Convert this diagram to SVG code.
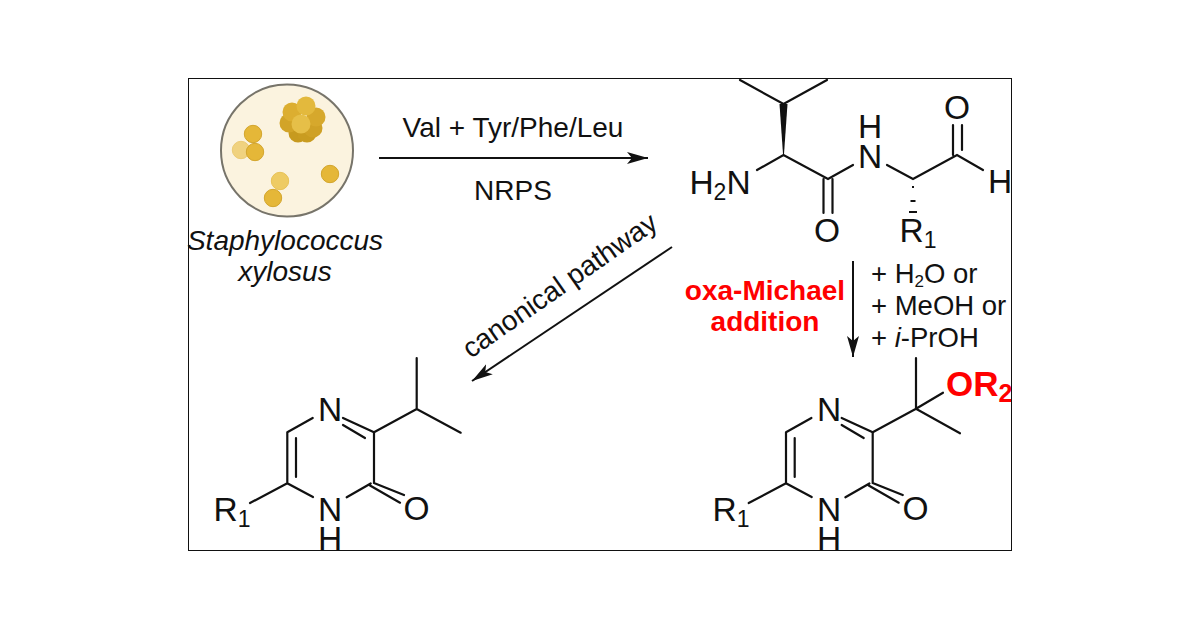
<svg xmlns="http://www.w3.org/2000/svg" width="1200" height="628" viewBox="0 0 1200 628">
<style>
text{font-family:"Liberation Sans",Arial,sans-serif;fill:#111}
.a{font-size:33.5px;text-anchor:middle}
.l{font-size:28px;text-anchor:middle}
.r{font-size:27.5px}
.red{fill:#f00;font-weight:bold}
.b{stroke:#111;stroke-width:2.2;fill:none;stroke-linecap:round}
.c{stroke:#111;stroke-width:2;fill:none}
</style>
<defs>
<marker id="ah" markerUnits="userSpaceOnUse" markerWidth="22" markerHeight="14" refX="21" refY="6.5" orient="auto"><path d="M0 0.5L21 6.5L0 12.5L5 6.5Z" fill="#111"/></marker>
<clipPath id="fr"><rect x="189" y="79" width="822" height="471"/></clipPath>
<g id="ringbonds">
<path class="b" d="M287.3 432.3L312.7 418M343 418L374 432.3M343 425L365 438M374 432.3V483M374 483L404 495M370 485.5L400 502.7M370.7 483.5L346.7 497.3M313 497L287.3 483.3V432.3M296 438V477M287.3 483.3L250 503"/>
</g>
</defs>
<rect width="1200" height="628" fill="#fff"/>
<rect x="188.5" y="78.5" width="823" height="472" fill="#fff" stroke="#111" stroke-width="1"/>
<g id="dish">
<circle cx="287" cy="150.5" r="66" fill="#fbf3df" stroke="#77746a" stroke-width="2"/>
<g fill="#e5b738" stroke="#d3a52c" stroke-width="1">
<circle cx="241" cy="150" r="8.7" fill="#f0d27f" stroke="#eccb74"/>
<circle cx="253" cy="134" r="8.7"/>
<circle cx="255" cy="152" r="8.7"/>
<circle cx="280" cy="181" r="8.7" fill="#eecb63" stroke="#e8c256"/>
<circle cx="273" cy="198" r="8.7"/>
<circle cx="330" cy="174" r="8.7"/>
</g>
<g id="cluster" stroke="none">
<circle cx="298" cy="133" r="9.5" fill="#c79a1f"/>
<circle cx="307" cy="133" r="9.5" fill="#c99c20"/>
<circle cx="313" cy="128" r="9.5" fill="#cfa126"/>
<circle cx="316" cy="117" r="9.5" fill="#d6a82c"/>
<circle cx="289" cy="123" r="9.5" fill="#d2a428"/>
<circle cx="292" cy="112" r="9.5" fill="#dcae30"/>
<circle cx="306" cy="106" r="9.5" fill="#e3b93d"/>
<circle cx="301" cy="124" r="9.5" fill="#e6bf48"/>
</g>
</g>
<g id="connectors">
<path class="c" d="M379 158H648" marker-end="url(#ah)"/>
<path class="c" d="M672 247L472 381" marker-end="url(#ah)"/>
<path class="c" d="M853 261V357" marker-end="url(#ah)"/>
</g>
<g id="labels">
<text class="l" x="513" y="137">Val + Tyr/Phe/Leu</text>
<text class="l" x="513" y="200">NRPS</text>
<text class="l" x="285" y="250" font-style="italic">Staphylococcus</text>
<text class="l" x="285" y="281" font-style="italic">xylosus</text>
<text class="l" transform="translate(565 293) rotate(-35)">canonical pathway</text>
<text class="l red" x="765" y="300">oxa-Michael</text>
<text class="l red" x="765" y="331">addition</text>
<text class="r" x="871" y="283">+ H<tspan font-size="17" dy="4">2</tspan><tspan dy="-4">O or</tspan></text>
<text class="r" x="871" y="315">+ MeOH or</text>
<text class="r" x="871" y="347">+ <tspan font-style="italic">i</tspan>-PrOH</text>
</g>
<g id="dipeptide" clip-path="url(#fr)">
<path class="b" d="M740 80L783.5 104L827 80M757 170L783.5 155L828 179L853 165M823.5 179V213M832.5 179V213M887 165L913 179L957 155L983 170M953 125V155M962 125V150"/>
<path d="M779.5 104H787.5L784 154H783Z" fill="#111"/>
<path d="M912 187h2M910.5 201h5M909 212h8" stroke="#111" stroke-width="2.2" fill="none"/>
<text class="a" x="720" y="194">H<tspan font-size="23" dy="6">2</tspan><tspan dy="-6">N</tspan></text>
<text class="a" x="870" y="138">H<tspan x="870" dy="30">N</tspan></text>
<text class="a" x="827" y="242">O</text>
<text class="a" x="957" y="119">O</text>
<text class="a" x="1000" y="193">H</text>
<text class="a" x="918" y="242">R<tspan font-size="23" dy="6">1</tspan></text>
</g>
<g id="pyrazinone-left" clip-path="url(#fr)">
<use href="#ringbonds"/>
<path class="b" d="M374 432.3L416.7 409L460.7 432.7M416.7 409V358"/>
<text class="a" x="330" y="421">N</text>
<text class="a" x="330" y="521">N<tspan x="330" dy="29">H</tspan></text>
<text class="a" x="416.5" y="520">O</text>
<text class="a" x="232" y="521">R<tspan font-size="23" dy="6">1</tspan></text>
</g>
<g id="pyrazinone-right" clip-path="url(#fr)">
<use href="#ringbonds" x="498.7"/>
<path class="b" d="M872.7 432.3L916 408.7L960 433.3M916 408.7V358M916 408.7L943 392.7"/>
<text class="a" x="829" y="421">N</text>
<text class="a" x="829" y="521">N<tspan x="829" dy="29">H</tspan></text>
<text class="a" x="915.5" y="520">O</text>
<text class="a" x="731" y="521">R<tspan font-size="23" dy="6">1</tspan></text>
<text class="a red" x="946" y="396" style="text-anchor:start;font-size:35px">OR<tspan font-size="25" dy="6">2</tspan></text>
</g>
</svg>
